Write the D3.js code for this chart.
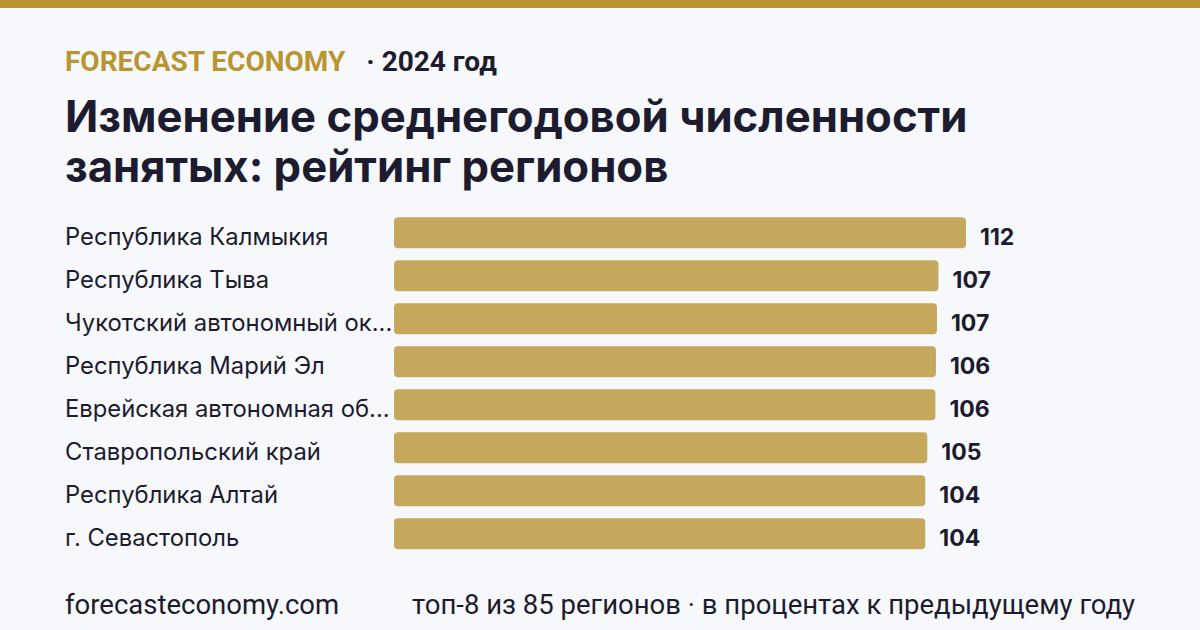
<!DOCTYPE html>
<html><head><meta charset="utf-8">
<script src="https://cdn.jsdelivr.net/npm/d3@7"></script>
<style>
html,body{margin:0;padding:0;background:#f7f8fc;}
svg{display:block;}
</style></head>
<body>
<svg id="chart" width="1200" height="630"></svg>
<script>
const brand = "FORECAST ECONOMY";
const yearLabel = "· 2024 год";
const titleLines = ["Изменение среднегодовой численности", "занятых: рейтинг регионов"];
const regions = [
  "Республика Калмыкия",
  "Республика Тыва",
  "Чукотский автономный ок...",
  "Республика Марий Эл",
  "Еврейская автономная об...",
  "Ставропольский край",
  "Республика Алтай",
  "г. Севастополь"
];
const values = [112.3, 106.9, 106.6, 106.4, 106.3, 104.7, 104.3, 104.3];
const footerLeft = "forecasteconomy.com";
const footerRight = "топ-8 из 85 регионов · в процентах к предыдущему году";

const W = 1200, H = 630;
const gold = "#b8952e", barColor = "#c5a85c", dark = "#1c1c2e", bg = "#f7f8fc";
const svg = d3.select("#chart");
svg.append("rect").attr("width", W).attr("height", H).attr("fill", bg);
svg.append("rect").attr("width", W).attr("height", 8).attr("fill", gold);

const head = svg.append("text").attr("x", 65).attr("y", 71)
  .attr("font-family", "Roboto, sans-serif").attr("font-weight", 700).attr("font-size", 28);
head.append("tspan").attr("fill", gold).text(brand);
head.append("tspan").attr("fill", dark).attr("dx", 21).text(yearLabel);

svg.append("g").selectAll("text").data(titleLines).join("text")
  .attr("x", 65).attr("y", (d, i) => 132 + i * 50)
  .attr("font-family", "Inter, sans-serif").attr("font-weight", 700).attr("font-size", 43.7)
  .attr("fill", dark).text(d => d);

const data = regions.map((r, i) => ({region: r, value: values[i]}));
const y = d3.scaleBand().domain(regions).range([211.3, 555.3]).paddingInner(0.28).paddingOuter(0.14);
const x = d3.scaleLinear().domain([0, d3.max(values)]).range([0, 572]);
const x0 = 394;
const textOffset = 11.7;

const g = svg.append("g");
g.selectAll("rect.bar").data(data).join("rect").attr("class", "bar")
  .attr("x", x0).attr("y", d => y(d.region))
  .attr("width", d => x(d.value)).attr("height", y.bandwidth())
  .attr("rx", 4).attr("fill", barColor);

g.selectAll("text.lab").data(data).join("text").attr("class", "lab")
  .attr("x", 65).attr("y", d => y(d.region) + y.bandwidth() / 2 + textOffset)
  .attr("font-family", "Inter, sans-serif").attr("font-size", 23.8).attr("fill", dark)
  .text(d => d.region);

g.selectAll("text.val").data(data).join("text").attr("class", "val")
  .attr("x", d => x0 + x(d.value) + 14).attr("y", d => y(d.region) + y.bandwidth() / 2 + textOffset)
  .attr("font-family", "Inter, sans-serif").attr("font-weight", 700).attr("font-size", 23).attr("fill", dark)
  .text(d => d3.format(".0f")(d.value));

svg.append("text").attr("x", 65).attr("y", 614)
  .attr("font-family", "Roboto, sans-serif").attr("font-size", 27.5).attr("fill", dark)
  .text(footerLeft);
svg.append("text").attr("x", 1135).attr("y", 614).attr("text-anchor", "end")
  .attr("font-family", "Roboto, sans-serif").attr("font-size", 27.5).attr("fill", dark)
  .text(footerRight);
</script>
</body></html>
